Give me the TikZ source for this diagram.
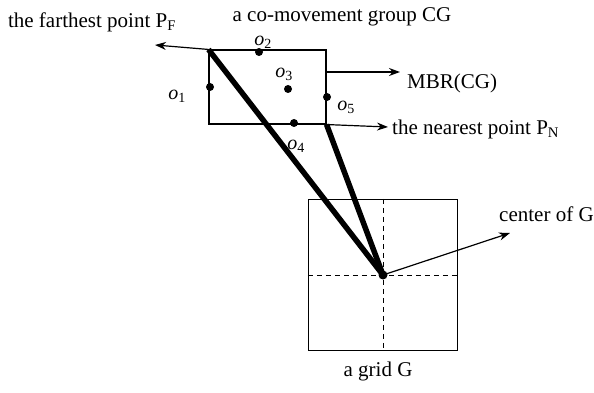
\documentclass[tikz,border=0pt]{standalone}
\usepackage{fontspec}
\setmainfont{Liberation Serif}
\usetikzlibrary{arrows.meta}

\begin{document}
\begin{tikzpicture}[x=1pt, y=-1pt,
  txt/.style={font=\fontsize{21}{25}\selectfont, inner sep=0pt},
  olbl/.style={font=\fontsize{20}{22}\selectfont\itshape, inner sep=0pt},
  thin/.style={line width=1.1pt},
  heavy/.style={line width=5.5pt},
  arr/.style={-{Stealth[length=11pt, width=8pt]}, line width=1.2pt},
  dot/.style={circle, fill, inner sep=0pt, minimum size=8pt}]
  \useasboundingbox (0,0) rectangle (594,393);

  % MBR of the co-movement group
  \node[draw, thin, minimum width=117pt, minimum height=74pt, inner sep=0pt] (mbr) at (267.5,87) {};
  \node[txt] (title) at (342,17) {a co-movement group CG};

  % the grid and its centre
  \node[draw, thin, minimum width=149pt, minimum height=151pt, inner sep=0pt] (grid) at (383,275) {};
  \draw[dashed, line width=0.8pt, dash pattern=on 5pt off 4pt] (grid.north) -- (grid.south);
  \draw[dashed, line width=0.8pt, dash pattern=on 5pt off 4pt] (grid.west) -- (grid.east);
  \node[txt] (gridlbl) at (378,371) {a grid G};

  % distances to the centre
  \draw[heavy] (mbr.north west) -- (grid.center);
  \draw[heavy] (mbr.south east) -- (grid.center);
  \node[dot, minimum size=9pt] (gc) at (grid.center) {};

  % objects
  \node[dot] (o1) at (210,87) {};
  \node[dot] (o2) at (259,52) {};
  \node[dot] (o3) at (288,89) {};
  \node[dot] (o4) at (294,123) {};
  \node[dot] (o5) at (327,97) {};
  \node[olbl] (o1lbl) at (177,96) {o\textsubscript{\upshape 1}};
  \node[olbl] (o2lbl) at (263,42) {o\textsubscript{\upshape 2}};
  \node[olbl] (o3lbl) at (284,74) {o\textsubscript{\upshape 3}};
  \node[olbl] (o4lbl) at (296,146) {o\textsubscript{\upshape 4}};
  \node[olbl] (o5lbl) at (346,107) {o\textsubscript{\upshape 5}};

  % annotations
  \node[txt] (farthest) at (92,22) {the farthest point P\textsubscript{F}};
  \node[txt, anchor=west] (mbrlbl) at (407,83) {MBR(CG)};
  \node[txt, anchor=west] (nearest) at (392,129) {the nearest point P\textsubscript{N}};
  \node[txt, anchor=west] (centerlbl) at (499,214) {center of G};

  \coordinate (pftip) at (155,45);
  \coordinate (mbrtip) at (400,72);
  \coordinate (pntip) at (388,127);
  \coordinate (gctip) at (510,233);

  \draw[arr] (mbr.north west) -- (pftip);
  \draw[arr] (mbr.east |- mbrtip) -- (mbrtip);
  \draw[arr] (mbr.south east) -- (pntip);
  \draw[arr] (grid.center) -- (gctip);
\end{tikzpicture}
\end{document}
